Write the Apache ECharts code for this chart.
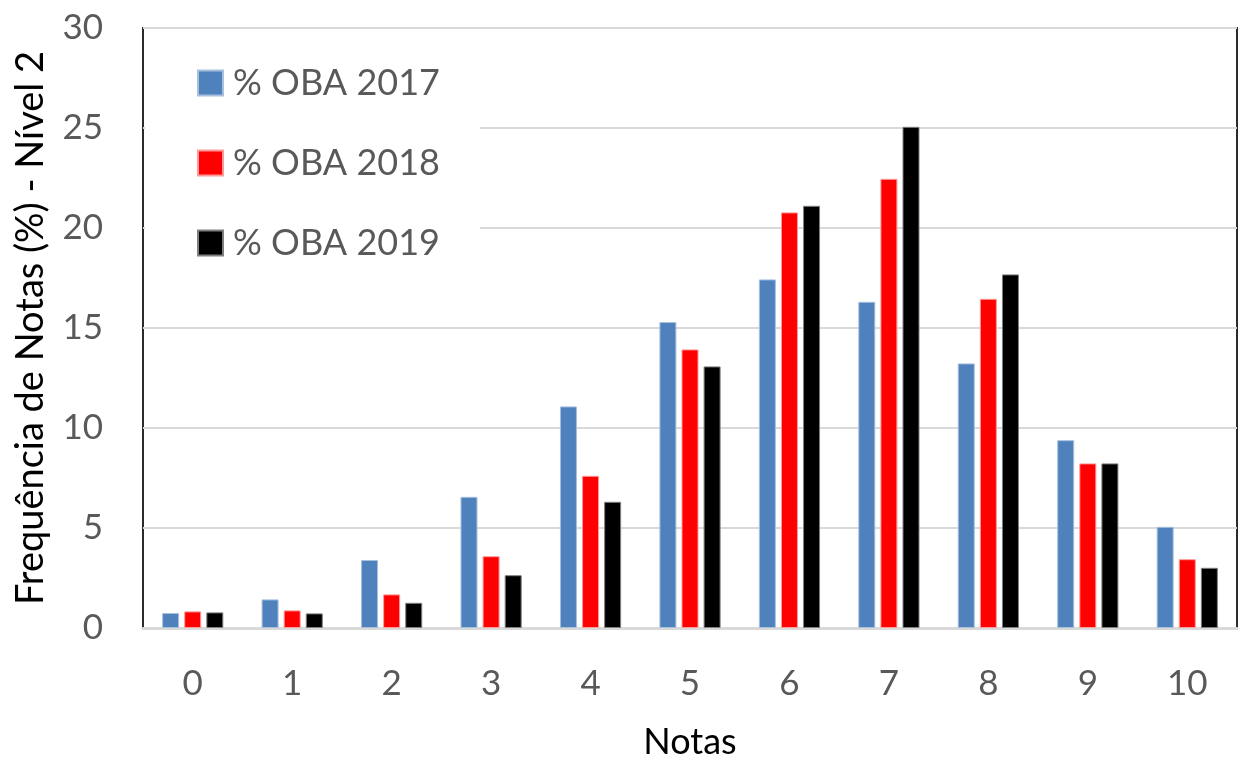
<!DOCTYPE html>
<html>
<head>
<meta charset="utf-8">
<script src="https://cdn.jsdelivr.net/npm/echarts@6/dist/echarts.min.js"></script>
<style>
  html, body { margin: 0; padding: 0; background: #fff; }
  #chart { width: 1244px; height: 759px; }
</style>
</head>
<body>
<div id="chart"></div>
<script>
const notas = ['0', '1', '2', '3', '4', '5', '6', '7', '8', '9', '10']
const oba2017 = [0.75, 1.43, 3.4, 6.56, 11.08, 15.3, 17.43, 16.31, 13.23, 9.39, 5.06]
const oba2018 = [0.83, 0.88, 1.68, 3.59, 7.61, 13.93, 20.78, 22.46, 16.46, 8.23, 3.44]
const oba2019 = [0.78, 0.73, 1.26, 2.64, 6.31, 13.08, 21.11, 25.06, 17.68, 8.23, 3.01]

const font = 'Lato, "Liberation Sans", sans-serif'
const chart = echarts.init(document.getElementById('chart'))

function bar(name, data, color, border) {
  return {
    name, type: 'bar', data,
    barWidth: 17, barGap: '30%',
    itemStyle: { color, borderColor: border, borderWidth: 1 }
  }
}

chart.setOption({
  animation: false,
  textStyle: { fontFamily: font },
  grid: {
    left: 143, right: 7, top: 28, bottom: 131,
    outerBoundsMode: 'none', containLabel: false,
    show: true, borderColor: '#2b2b2b', borderWidth: 2
  },
  legend: {
    orient: 'vertical', left: 145, top: 30,
    padding: [35, 40, 20, 52],
    backgroundColor: '#fff',
    itemWidth: 25, itemHeight: 25, itemGap: 44,
    icon: 'rect',
    textStyle: { fontSize: 36, color: '#595959', fontFamily: font, lineHeight: 36, padding: [0, 0, 0, 5] },
    data: ['% OBA 2017', '% OBA 2018', '% OBA 2019']
  },
  xAxis: {
    type: 'category', data: notas,
    name: 'Notas', nameLocation: 'middle', nameGap: 96,
    nameTextStyle: { fontSize: 36, color: '#000', fontFamily: font },
    axisLine: { lineStyle: { color: '#d9d9d9', width: 3 } },
    axisTick: { show: false },
    axisLabel: { fontSize: 35, color: '#595959', margin: 38, fontFamily: font }
  },
  yAxis: {
    type: 'value', min: 0, max: 30, interval: 5,
    name: 'Frequência de Notas (%) - Nível 2', nameLocation: 'middle', nameGap: 93,
    nameRotate: 90,
    nameTextStyle: { fontSize: 38, color: '#000', fontFamily: font },
    axisLine: { show: false },
    axisTick: { show: false },
    axisLabel: { fontSize: 35, color: '#595959', margin: 40, fontFamily: font },
    splitLine: { lineStyle: { color: '#d9d9d9', width: 2 } }
  },
  series: [
    bar('% OBA 2017', oba2017, '#4f81bd', '#a7c0de'),
    bar('% OBA 2018', oba2018, '#ff0000', '#ff9a9a'),
    bar('% OBA 2019', oba2019, '#000000', '#7f7f7f')
  ]
})
</script>
</body>
</html>
